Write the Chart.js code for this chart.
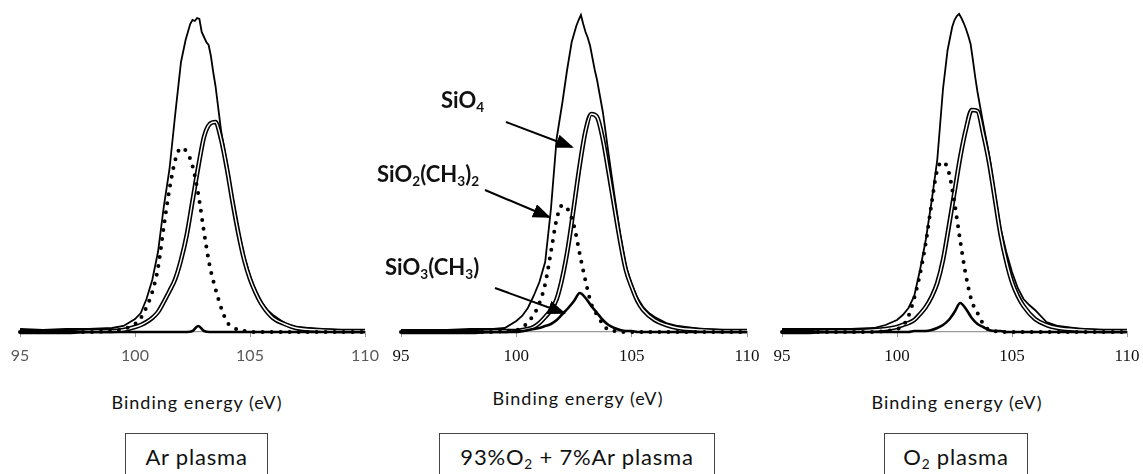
<!DOCTYPE html>
<html>
<head>
<meta charset="utf-8">
<script src="https://cdn.jsdelivr.net/npm/chart.js@4.4.0/dist/chart.umd.min.js"></script>
<style>
  body { margin: 0; background: #fff; }
  #wrap { position: relative; width: 1143px; height: 474px; overflow: hidden; font-family: Lato, "Open Sans", sans-serif; color: #111; }
  .panel { position: absolute; top: 0; height: 372px; }
  .axisTitle { position: absolute; width: 240px; text-align: center; font-size: 18px; letter-spacing: 1px; line-height: 20px; }
  .box { position: absolute; top: 433px; height: 46px; line-height: 46px; border: 1px solid #444; text-align: center; font-size: 22px; letter-spacing: 0.8px; background: #fff; }
  .lbl { position: absolute; font-weight: bold; font-size: 22px; line-height: 22px; white-space: nowrap; }
  sub { font-size: 0.62em; vertical-align: baseline; position: relative; top: 0.28em; line-height: 0; }
  svg { position: absolute; left: 0; top: 0; pointer-events: none; }
</style>
</head>
<body>
<div id="wrap">
  <div class="panel" style="left:-20px"><canvas id="c1" width="425" height="372"></canvas></div>
  <div class="panel" style="left:361px"><canvas id="c2" width="426" height="372"></canvas></div>
  <div class="panel" style="left:742px"><canvas id="c3" width="425" height="372"></canvas></div>

  <div class="axisTitle" style="left:77px;top:392px">Binding energy (eV)</div>
  <div class="axisTitle" style="left:458px;top:388px">Binding energy (eV)</div>
  <div class="axisTitle" style="left:837px;top:392px">Binding energy (eV)</div>

  <div class="box" style="left:125px;width:141px">Ar plasma</div>
  <div class="box" style="left:439px;width:274px">93%O<sub>2</sub> + 7%Ar plasma</div>
  <div class="box" style="left:884px;width:142px">O<sub>2</sub> plasma</div>

  <div class="lbl" style="left:441px;top:89px">SiO<sub>4</sub></div>
  <div class="lbl" style="left:377px;top:163px">SiO<sub>2</sub>(CH<sub>3</sub>)<sub>2</sub></div>
  <div class="lbl" style="left:385px;top:256px">SiO<sub>3</sub>(CH<sub>3</sub>)</div>

  <svg width="1143" height="474">
    <defs>
      <marker id="head" markerWidth="9" markerHeight="7" refX="8" refY="3.5" orient="auto" markerUnits="strokeWidth">
        <path d="M0,0 L9,3.5 L0,7 Z" fill="#000"></path>
      </marker>
    </defs>
    <line x1="506" y1="122" x2="572" y2="147" stroke="#000" stroke-width="2" marker-end="url(#head)"></line>
    <line x1="485" y1="190" x2="549" y2="217" stroke="#000" stroke-width="2" marker-end="url(#head)"></line>
    <line x1="495" y1="288" x2="564" y2="313" stroke="#000" stroke-width="2" marker-end="url(#head)"></line>
  </svg>
</div>

<script>
// energy grid of the fitted components (eV)
const energy = [95, 96, 97, 98, 99, 99.5, 100, 100.25, 100.5, 100.75, 101, 101.25, 101.5, 101.75, 102, 102.25, 102.5, 102.75, 103, 103.25, 103.5, 103.75, 104, 104.25, 104.5, 104.75, 105, 105.25, 105.5, 106, 106.5, 107, 108, 109, 110];
// energy grid of the measured envelope (eV)
const envEnergy = [95, 96, 97, 98, 99, 99.5, 100, 100.25, 100.5, 100.75, 101, 101.25, 101.5, 101.75, 102, 102.2, 102.4, 102.5, 102.6, 102.7, 102.8, 102.9, 103, 103.1, 103.2, 103.3, 103.4, 103.5, 103.75, 104, 104.25, 104.5, 104.75, 105, 105.25, 105.5, 105.75, 106, 106.5, 107, 108, 109, 110];
const energyTicks = [95, 100, 105, 110];

// Ar plasma
const arEnvelope = [3, 2, 3, 3, 4, 6, 13, 19, 33, 52, 80, 125, 163, 218, 270, 292, 308, 312, 311, 314, 313, 300, 295, 290, 287, 276, 260, 246, 200, 168, 134, 102, 76, 56, 41, 30, 22, 17, 9, 5, 3, 2, 2];
const arSiO4 = [0, 0, 0, 1, 1, 2, 5, 7, 10, 14, 20, 30, 41, 53, 72, 97, 131, 165, 195, 208, 210, 192, 163, 129, 98, 72, 53, 39, 28, 14, 8, 4, 2, 1, 1];
const arSiO2CH32 = [0, 0, 0, 0, 1, 3, 8, 14, 25, 40, 64, 105, 143, 172, 184, 180, 166, 138, 100, 66, 43, 24, 10, 5, 2, 1, 0, 0, 0, 0, 0, 0, 0, 0, 0];
const arSiO3CH3 = [0, 0, 0, 0, 0, 0, 0, 0, 0, 0, 0, 0, 0, 0, 0, 0, 1, 6, 1, 0, 0, 0, 0, 0, 0, 0, 0, 0, 0, 0, 0, 0, 0, 0, 0];

// 93%O2 + 7%Ar plasma
const mixEnvelope = [2, 2, 2, 3, 3, 4, 11, 16, 24, 36, 50, 70, 123, 194, 230, 262, 290, 298, 306, 312, 317, 308, 300, 294, 286, 274, 262, 252, 220, 178, 137, 98, 66, 48, 34, 25, 19, 15, 9, 6, 3, 2, 2];
const mixSiO4 = [0, 0, 0, 0, 1, 1, 1, 2, 3, 5, 9, 15, 22, 33, 55, 86, 126, 167, 201, 218, 215, 193, 160, 125, 91, 62, 45, 31, 22, 12, 7, 4, 2, 1, 1];
const mixSiO2CH32 = [0, 0, 0, 0, 0, 1, 2, 4, 10, 17, 29, 48, 80, 113, 127, 122, 106, 78, 51, 28, 17, 8, 2, 1, 0, 0, 0, 0, 0, 0, 0, 0, 0, 0, 0];
const mixSiO3CH3 = [0, 0, 0, 0, 0, 0, 1, 1, 2, 3, 4, 6, 8, 12, 18, 24, 31, 39, 34, 26, 19, 12, 7, 4, 2, 1, 1, 0, 0, 0, 0, 0, 0, 0, 0];

// O2 plasma
const o2Envelope = [3, 3, 3, 3, 4, 7, 12, 17, 24, 36, 62, 92, 130, 172, 243, 282, 305, 312, 316, 318, 314, 309, 303, 296, 288, 272, 255, 240, 208, 178, 140, 104, 80, 60, 44, 33, 27, 22, 10, 6, 3, 2, 2];
const o2SiO4 = [0, 0, 1, 1, 2, 3, 5, 7, 9, 12, 18, 25, 35, 49, 72, 105, 140, 175, 203, 222, 221, 198, 170, 134, 98, 71, 50, 36, 26, 13, 7, 4, 2, 1, 1];
const o2SiO2CH32 = [0, 0, 0, 0, 0, 1, 3, 6, 16, 34, 58, 89, 128, 162, 170, 160, 129, 91, 56, 31, 19, 8, 2, 1, 0, 0, 0, 0, 0, 0, 0, 0, 0, 0, 0];
const o2SiO3CH3 = [0, 0, 0, 0, 0, 0, 0, 0, 0, 1, 1, 1, 2, 4, 7, 12, 20, 29, 23, 14, 8, 5, 2, 1, 1, 0, 0, 0, 0, 0, 0, 0, 0, 0, 0];

function pares(xs, ys) {
  return xs.map((x, i) => ({ x: x, y: ys[i] }));
}

function criarGrafico(id, env, sio4, sio2, sio3, tickFont, tickColor, padRight) {
  const ctx = document.getElementById(id).getContext('2d');
  const base = { pointRadius: 0, borderColor: '#000', clip: false, fill: false };

  return new Chart(ctx, {
    type: 'line',
    data: {
      datasets: [
        Object.assign({}, base, { label: 'envelope', data: pares(envEnergy, env), borderWidth: 1.8, tension: 0, order: 5 }),
        Object.assign({}, base, { label: 'SiO4', data: pares(energy, sio4), borderWidth: 4.6, cubicInterpolationMode: 'monotone', order: 4 }),
        Object.assign({}, base, { label: 'SiO4 inner', data: pares(energy, sio4), borderWidth: 1.4, borderColor: '#fff', cubicInterpolationMode: 'monotone', order: 3 }),
        Object.assign({}, base, { label: 'SiO2(CH3)2', data: pares(energy, sio2), borderWidth: 4, borderDash: [0, 9], borderCapStyle: 'round', cubicInterpolationMode: 'monotone', order: 2 }),
        Object.assign({}, base, { label: 'SiO3(CH3)', data: pares(energy, sio3), borderWidth: 2.6, cubicInterpolationMode: 'monotone', order: 1 })
      ]
    },
    options: {
      responsive: false,
      animation: false,
      // wide padding so the tick labels never push the plot area
      layout: { padding: { left: 40, right: padRight, top: 8, bottom: 0 } },
      plugins: { legend: { display: false }, tooltip: { enabled: false } },
      scales: {
        x: {
          type: 'linear',
          min: 95,
          max: 110,
          afterBuildTicks: s => { s.ticks = energyTicks.map(v => ({ value: v })); },
          afterFit: s => { s.height = 40; },
          ticks: { font: tickFont, color: tickColor, padding: 9, maxRotation: 0 },
          grid: { drawOnChartArea: false, tickLength: 5, color: '#9a9a9a' },
          border: { color: '#9a9a9a', width: 1.2 }
        },
        y: { display: false, min: 0, max: 324 }
      }
    }
  });
}

const sans = { family: 'Lato, "Open Sans", sans-serif', size: 16 };
const serif = { family: '"Liberation Serif", "DejaVu Serif", serif', size: 17 };

criarGrafico('c1', arEnvelope, arSiO4, arSiO2CH32, arSiO3CH3, sans, '#595959', 40);
criarGrafico('c2', mixEnvelope, mixSiO4, mixSiO2CH32, mixSiO3CH3, serif, '#111', 40);
criarGrafico('c3', o2Envelope, o2SiO4, o2SiO2CH32, o2SiO3CH3, serif, '#111', 40);
</script>
</body>
</html>
